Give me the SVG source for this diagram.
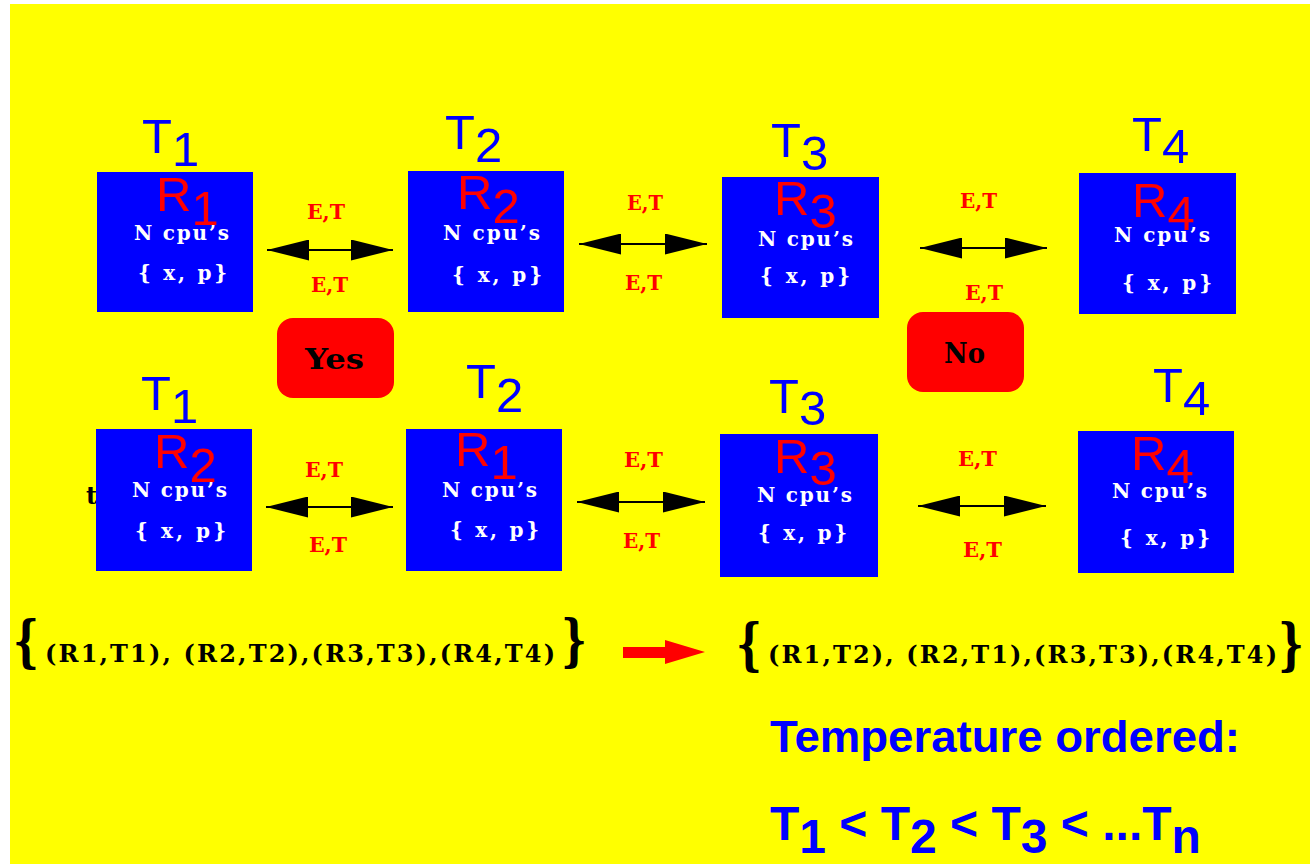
<svg xmlns="http://www.w3.org/2000/svg" width="1310" height="864" viewBox="0 0 1310 864">
<style>
.bg{fill:#ffff00}
.box{fill:#0000ff}
.tl{font-family:"Liberation Sans",Arial,sans-serif;font-size:49px;fill:#0000ff}
.rl{font-family:"Liberation Sans",Arial,sans-serif;font-size:49px;fill:#ff0000}
.cpu{font-family:"DejaVu Serif",serif;font-weight:bold;font-size:20px;fill:#ffffff}
.et{font-family:"DejaVu Serif",serif;font-weight:bold;font-size:21px;fill:#ff0000}
.btn{fill:#ff0000}
.bt{font-family:"DejaVu Serif",serif;font-weight:bold;font-size:27px;fill:#000000}
.set{font-family:"DejaVu Serif",serif;font-weight:bold;font-size:24px;fill:#000000}
.brace{font-family:"DejaVu Serif",serif;font-weight:bold;font-size:56px;fill:#000000}
.big{font-family:"Liberation Sans",Arial,sans-serif;font-weight:bold;fill:#0000ff}
.conn{stroke:#000000;stroke-width:2;fill:none}
</style>
<defs>
<marker id="head" viewBox="0 0 42 21" refX="42" refY="10.5" markerWidth="42" markerHeight="21" markerUnits="userSpaceOnUse" orient="auto-start-reverse">
<path d="M0,0 L42,10.5 L0,21 Z" fill="#000000"/>
</marker>
</defs>
<rect class="bg" x="10" y="4" width="1300" height="860"/>
<text class="set" x="86" y="504" font-size="36">t</text>

<g id="node-top-1">
<rect class="box" x="97" y="172" width="156" height="140"/>
<text class="tl" x="142" y="153">T<tspan dy="13">1</tspan></text>
<text class="rl" x="156" y="211">R<tspan dy="14">1</tspan></text>
<text class="cpu" x="134" y="240" textLength="95" lengthAdjust="spacing">N cpu’s</text>
<text class="cpu" x="138" y="280" textLength="89" lengthAdjust="spacing">{ x, p}</text>
</g>
<g id="node-top-2">
<rect class="box" x="408" y="171" width="156" height="141"/>
<text class="tl" x="445" y="149">T<tspan dy="13">2</tspan></text>
<text class="rl" x="457" y="209">R<tspan dy="14">2</tspan></text>
<text class="cpu" x="443" y="240" textLength="97" lengthAdjust="spacing">N cpu’s</text>
<text class="cpu" x="452" y="282" textLength="90" lengthAdjust="spacing">{ x, p}</text>
</g>
<g id="node-top-3">
<rect class="box" x="722" y="177" width="157" height="141"/>
<text class="tl" x="771" y="157">T<tspan dy="13">3</tspan></text>
<text class="rl" x="774" y="215">R<tspan dy="13">3</tspan></text>
<text class="cpu" x="758" y="246" textLength="95" lengthAdjust="spacing">N cpu’s</text>
<text class="cpu" x="760" y="283" textLength="90" lengthAdjust="spacing">{ x, p}</text>
</g>
<g id="node-top-4">
<rect class="box" x="1079" y="173" width="157" height="141"/>
<text class="tl" x="1132" y="151">T<tspan dy="12">4</tspan></text>
<text class="rl" x="1132" y="217">R<tspan dy="13">4</tspan></text>
<text class="cpu" x="1114" y="242" textLength="96" lengthAdjust="spacing">N cpu’s</text>
<text class="cpu" x="1122" y="290" textLength="90" lengthAdjust="spacing">{ x, p}</text>
</g>

<g id="node-bottom-1">
<rect class="box" x="96" y="429" width="156" height="142"/>
<text class="tl" x="141" y="410">T<tspan dy="13">1</tspan></text>
<text class="rl" x="154" y="468">R<tspan dy="14">2</tspan></text>
<text class="cpu" x="132" y="497" textLength="95" lengthAdjust="spacing">N cpu’s</text>
<text class="cpu" x="135" y="538" textLength="91" lengthAdjust="spacing">{ x, p}</text>
</g>
<g id="node-bottom-2">
<rect class="box" x="406" y="429" width="156" height="142"/>
<text class="tl" x="466" y="398">T<tspan dy="14">2</tspan></text>
<text class="rl" x="455" y="466">R<tspan dy="13">1</tspan></text>
<text class="cpu" x="442" y="497" textLength="95" lengthAdjust="spacing">N cpu’s</text>
<text class="cpu" x="450" y="537" textLength="89" lengthAdjust="spacing">{ x, p}</text>
</g>
<g id="node-bottom-3">
<rect class="box" x="720" y="434" width="158" height="143"/>
<text class="tl" x="769" y="413">T<tspan dy="12">3</tspan></text>
<text class="rl" x="774" y="473">R<tspan dy="12">3</tspan></text>
<text class="cpu" x="757" y="502" textLength="95" lengthAdjust="spacing">N cpu’s</text>
<text class="cpu" x="758" y="540" textLength="89" lengthAdjust="spacing">{ x, p}</text>
</g>
<g id="node-bottom-4">
<rect class="box" x="1078" y="431" width="156" height="142"/>
<text class="tl" x="1153" y="402">T<tspan dy="13">4</tspan></text>
<text class="rl" x="1131" y="470">R<tspan dy="13">4</tspan></text>
<text class="cpu" x="1112" y="498" textLength="95" lengthAdjust="spacing">N cpu’s</text>
<text class="cpu" x="1120" y="545" textLength="90" lengthAdjust="spacing">{ x, p}</text>
</g>

<g id="connectors">
<line class="conn" x1="267" y1="250" x2="393" y2="250" marker-start="url(#head)" marker-end="url(#head)"/>
<line class="conn" x1="579" y1="244" x2="707" y2="244" marker-start="url(#head)" marker-end="url(#head)"/>
<line class="conn" x1="920" y1="248" x2="1047" y2="248" marker-start="url(#head)" marker-end="url(#head)"/>
<line class="conn" x1="266" y1="507" x2="393" y2="507" marker-start="url(#head)" marker-end="url(#head)"/>
<line class="conn" x1="577" y1="502" x2="705" y2="502" marker-start="url(#head)" marker-end="url(#head)"/>
<line class="conn" x1="918" y1="506" x2="1046" y2="506" marker-start="url(#head)" marker-end="url(#head)"/>
<text class="et" x="307" y="219" textLength="38" lengthAdjust="spacingAndGlyphs">E,T</text>
<text class="et" x="311" y="292" textLength="37" lengthAdjust="spacingAndGlyphs">E,T</text>
<text class="et" x="627" y="210" textLength="36" lengthAdjust="spacingAndGlyphs">E,T</text>
<text class="et" x="625" y="290" textLength="37" lengthAdjust="spacingAndGlyphs">E,T</text>
<text class="et" x="960" y="208" textLength="37" lengthAdjust="spacingAndGlyphs">E,T</text>
<text class="et" x="965" y="300" textLength="38" lengthAdjust="spacingAndGlyphs">E,T</text>
<text class="et" x="305" y="477" textLength="38" lengthAdjust="spacingAndGlyphs">E,T</text>
<text class="et" x="309" y="552" textLength="38" lengthAdjust="spacingAndGlyphs">E,T</text>
<text class="et" x="624" y="467" textLength="39" lengthAdjust="spacingAndGlyphs">E,T</text>
<text class="et" x="623" y="548" textLength="37" lengthAdjust="spacingAndGlyphs">E,T</text>
<text class="et" x="958" y="466" textLength="39" lengthAdjust="spacingAndGlyphs">E,T</text>
<text class="et" x="963" y="557" textLength="39" lengthAdjust="spacingAndGlyphs">E,T</text>
<polygon points="623,647 665,647 665,640 705,652 665,664 665,658 623,658" fill="#ff0000"/>
</g>

<g id="yes">
<rect class="btn" x="277" y="318" width="117" height="80" rx="16"/>
<text class="bt" x="305" y="369" textLength="59" lengthAdjust="spacingAndGlyphs">Yes</text>
</g>
<g id="no">
<rect class="btn" x="907" y="312" width="117" height="80" rx="16"/>
<text class="bt" x="944" y="363" textLength="41" lengthAdjust="spacingAndGlyphs">No</text>
</g>

<g id="sets">
<text class="brace" x="13" y="661" textLength="26" lengthAdjust="spacingAndGlyphs">{</text>
<text class="set" x="45" y="662" textLength="510" lengthAdjust="spacing">(R1,T1), (R2,T2),(R3,T3),(R4,T4)</text>
<text class="brace" x="561" y="660" textLength="26" lengthAdjust="spacingAndGlyphs">}</text>
<text class="brace" x="736" y="664" textLength="26" lengthAdjust="spacingAndGlyphs">{</text>
<text class="set" x="768" y="663" textLength="509" lengthAdjust="spacing">(R1,T2), (R2,T1),(R3,T3),(R4,T4)</text>
<text class="brace" x="1278" y="664" textLength="26" lengthAdjust="spacingAndGlyphs">}</text>
</g>

<g id="caption">
<text class="big" x="770" y="752" font-size="45" textLength="470" lengthAdjust="spacingAndGlyphs">Temperature ordered:</text>
<text class="big" x="770" y="840" font-size="48">T<tspan dy="13">1</tspan><tspan dy="-13"> &lt; T</tspan><tspan dy="13">2</tspan><tspan dy="-13"> &lt; T</tspan><tspan dy="13">3</tspan><tspan dy="-13"> &lt; ...T</tspan><tspan dy="13">n</tspan></text>
</g>
</svg>
